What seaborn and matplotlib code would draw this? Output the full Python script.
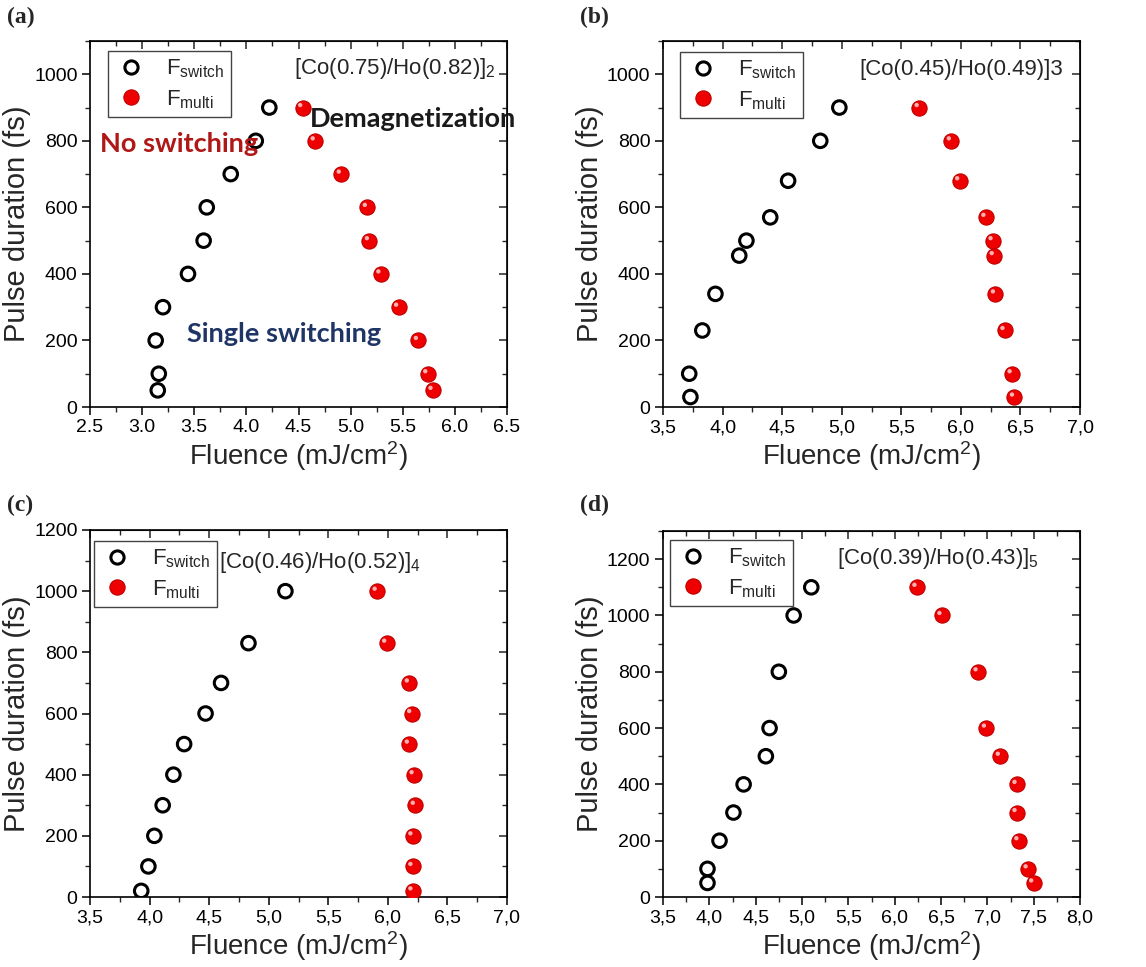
import seaborn as sns
import matplotlib.pyplot as plt
import matplotlib.ticker as mticker
from matplotlib.lines import Line2D
from matplotlib.transforms import offset_copy

# ---------------------------
# Data
# ---------------------------
# (a) [Co(0.75)/Ho(0.82)]2
a_pulse = [900, 800, 700, 600, 500, 400, 300, 200, 100, 50]
a_switch = [4.22, 4.09, 3.85, 3.62, 3.59, 3.44, 3.20, 3.13, 3.16, 3.15]
a_multi = [4.54, 4.66, 4.91, 5.16, 5.18, 5.29, 5.46, 5.65, 5.74, 5.79]

# (b) [Co(0.45)/Ho(0.49)]3
b_pulse = [900, 800, 680, 570, 500, 455, 340, 230, 100, 30]
b_switch = [4.98, 4.82, 4.55, 4.40, 4.20, 4.14, 3.94, 3.83, 3.72, 3.73]
b_multi = [5.65, 5.92, 5.99, 6.21, 6.27, 6.28, 6.29, 6.37, 6.43, 6.45]

# (c) [Co(0.46)/Ho(0.52)]4
c_pulse = [1000, 830, 700, 600, 500, 400, 300, 200, 100, 20]
c_switch = [5.14, 4.83, 4.60, 4.47, 4.29, 4.20, 4.11, 4.04, 3.99, 3.93]
c_multi = [5.91, 5.99, 6.18, 6.20, 6.18, 6.22, 6.23, 6.21, 6.21, 6.21]

# (d) [Co(0.39)/Ho(0.43)]5
d_pulse = [1100, 1000, 800, 600, 500, 400, 300, 200, 100, 50]
d_switch = [5.10, 4.91, 4.75, 4.65, 4.61, 4.37, 4.26, 4.11, 3.98, 3.98]
d_multi = [6.24, 6.51, 6.90, 6.99, 7.14, 7.32, 7.32, 7.34, 7.44, 7.50]

panels = [
    ("(a)", a_pulse, a_switch, a_multi, "[Co(0.75)/Ho(0.82)]$_{2}$",
     (2.5, 6.5), (0, 1100), False),
    ("(b)", b_pulse, b_switch, b_multi, "[Co(0.45)/Ho(0.49)]3",
     (3.5, 7.0), (0, 1100), True),
    ("(c)", c_pulse, c_switch, c_multi, "[Co(0.46)/Ho(0.52)]$_{4}$",
     (3.5, 7.0), (0, 1200), True),
    ("(d)", d_pulse, d_switch, d_multi, "[Co(0.39)/Ho(0.43)]$_{5}$",
     (3.5, 8.0), (0, 1300), True),
]

# ---------------------------
# Styling
# ---------------------------
sns.set_style("ticks")
plt.rcParams["font.family"] = ["Liberation Sans", "DejaVu Sans"]
plt.rcParams["mathtext.default"] = "regular"

fig = plt.figure(figsize=(11.46, 9.67), dpi=100)

W, H = 1146, 967
boxes = [(90, 41, 507, 407), (663, 41, 1080, 407),
         (90, 530, 507, 897), (663, 531, 1080, 897)]
legend_offsets = [(18, 10), (17, 11), (4, 11), (7, 9)]
label_xy = [(7, 17), (580, 17), (7, 505), (580, 505)]
text_pos = [(0.974, 0.91), (0.959, 0.907), (0.31, 0.896), (0.417, 0.91)]
text_ha = ["right", "right", "left", "left"]


def comma_fmt(v, pos):
    return f"{v:.1f}".replace(".", ",")


for i, (tag, pulse, fsw, fmu, title, xl, yl, comma) in enumerate(panels):
    l, t, r, b = boxes[i]
    ax = fig.add_axes([l / W, (H - b) / H, (r - l) / W, (b - t) / H])

    sns.scatterplot(x=fsw, y=pulse, ax=ax, color="none", edgecolor="black",
                    linewidth=2.2, s=95, marker="o", zorder=3)
    sns.scatterplot(x=fmu, y=pulse, ax=ax, color="#ee0000", edgecolor="#c00000",
                    linewidth=0.8, s=120, marker="o", zorder=3)
    # small highlight on the red spheres
    hl = offset_copy(ax.transData, fig=fig, x=-1.8, y=1.8, units="points")
    ax.scatter(fmu, pulse, s=10, color="#ffb0b0", edgecolor="none",
               transform=hl, zorder=4)

    ax.set_xlim(*xl)
    ax.set_ylim(*yl)
    ax.xaxis.set_major_locator(mticker.MultipleLocator(0.5))
    ax.xaxis.set_minor_locator(mticker.MultipleLocator(0.25))
    ax.yaxis.set_major_locator(mticker.MultipleLocator(200))
    ax.yaxis.set_minor_locator(mticker.MultipleLocator(100))
    if comma:
        ax.xaxis.set_major_formatter(mticker.FuncFormatter(comma_fmt))
    else:
        ax.xaxis.set_major_formatter(mticker.FormatStrFormatter("%.1f"))

    for s in ax.spines.values():
        s.set_linewidth(1.2)
        s.set_color("black")
    ax.tick_params(axis="both", which="major", direction="out", length=6,
                   width=1.1, labelsize=14, pad=3, colors="black")
    ax.tick_params(axis="both", which="minor", direction="out", length=3.5,
                   width=1.0)
    # inward ticks on the top and right spines (Origin style)
    sec_x = ax.secondary_xaxis("top")
    sec_x.xaxis.set_major_locator(mticker.MultipleLocator(0.5))
    sec_x.xaxis.set_minor_locator(mticker.MultipleLocator(0.25))
    sec_x.tick_params(which="major", direction="in", length=6, width=1.1,
                      labeltop=False)
    sec_x.tick_params(which="minor", direction="in", length=3.5, width=1.0)
    sec_y = ax.secondary_yaxis("right")
    sec_y.yaxis.set_major_locator(mticker.MultipleLocator(200))
    sec_y.yaxis.set_minor_locator(mticker.MultipleLocator(100))
    sec_y.tick_params(which="major", direction="in", length=6, width=1.1,
                      labelright=False)
    sec_y.tick_params(which="minor", direction="in", length=3.5, width=1.0)

    ax.set_xlabel("Fluence (mJ/cm$^{2}$)", fontsize=20, labelpad=2)
    ax.set_ylabel("Pulse duration (fs)", fontsize=21, labelpad=2)

    handles = [
        Line2D([], [], marker="o", ls="none", mfc="none", mec="black",
               mew=2.2, ms=9.5, label="F$_{switch}$"),
        Line2D([], [], marker="o", ls="none", mfc="#ee0000", mec="#c00000",
               mew=0.8, ms=11, label="F$_{multi}$"),
    ]
    ox, oy = legend_offsets[i]
    ax.legend(handles=handles, loc="upper left",
              bbox_to_anchor=(ox / (r - l), 1 - oy / (b - t)),
              borderaxespad=0, fontsize=16, frameon=True, fancybox=False,
              edgecolor="#444444", framealpha=1, handletextpad=0.8,
              handlelength=1.5, labelspacing=0.35, borderpad=0.3)

    ax.text(text_pos[i][0], text_pos[i][1], title, transform=ax.transAxes,
            fontsize=16, ha=text_ha[i], va="baseline")

    fig.text(label_xy[i][0] / W, 1 - label_xy[i][1] / H, tag,
             family="Liberation Serif", fontweight="bold", fontsize=17,
             ha="left", va="center")

    if i == 0:
        ax.text(2.6, 790, "No switching", color="#b01818", fontsize=19.5,
                fontweight="bold", family="Lato", va="center", ha="left",
                zorder=5)
        ax.text(4.61, 865, "Demagnetization", color="#1a1a1a", fontsize=19.5,
                fontweight="bold", family="Lato", va="center", ha="left",
                zorder=5, clip_on=False)
        ax.text(3.43, 220, "Single switching", color="#1f3566", fontsize=19.5,
                fontweight="bold", family="Lato", va="center", ha="left",
                zorder=5)

fig.savefig("out.png", dpi=100)
